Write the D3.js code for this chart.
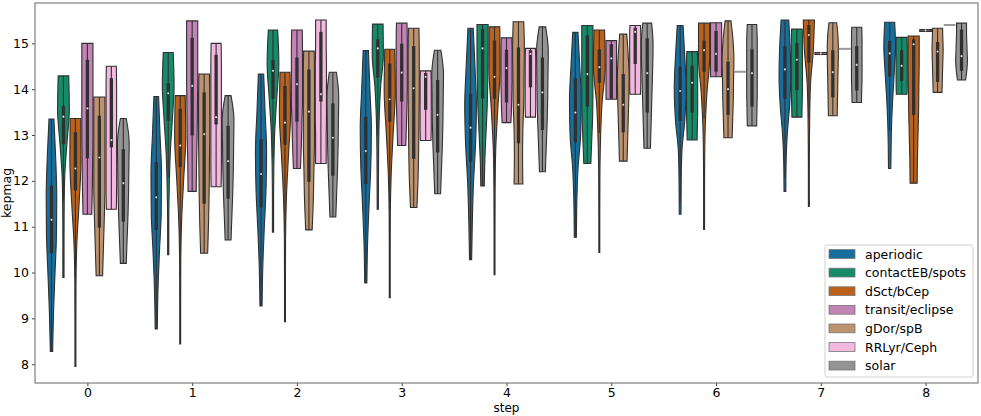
<!DOCTYPE html>
<html>
<head>
<meta charset="utf-8">
<script src="https://cdn.jsdelivr.net/npm/d3@7"></script>
<style>
  body { margin: 0; background: #fff; }
  text { font-family: "DejaVu Sans", sans-serif; }
</style>
</head>
<body>
<svg id="viz" width="981" height="416"></svg>
<script>
// Categories
const steps   = [0, 1, 2, 3, 4, 5, 6, 7, 8];
const classes = ['aperiodic', 'contactEB/spots', 'dSct/bCep', 'transit/eclipse',
                 'gDor/spB', 'RRLyr/Ceph', 'solar'];
const palette = ['#0173b2', '#029e73', '#d55e00', '#cc78bc', '#ca9161', '#fbafe4', '#949494'];
const yTicks  = [8, 9, 10, 11, 12, 13, 14, 15];

// Per class (rows) and step (columns)
const lowVals = [
  [8.28, 8.77, 9.27, 9.77, 10.28, 10.77, 11.27, 11.77, 12.27],
  [9.89, 10.39, 10.88, 11.38, 11.89, 12.38, 12.89, 13.39, 13.89],
  [7.95, 8.44, 8.93, 9.45, 9.95, 10.44, 10.94, 11.44, 11.95],
  [11.27, 11.77, 12.27, 12.77, 13.27, 13.78, 14.27, 14.76, 15.26],
  [9.93, 10.42, 10.93, 11.42, 11.93, 12.43, 12.94, 13.42, 13.93],
  [11.38, 11.87, 12.38, 12.88, 13.39, 13.89, 14.38, 14.88, 15.40],
  [10.20, 10.71, 11.21, 11.72, 12.20, 12.71, 13.20, 13.71, 14.20]
];
const highVals = [
  [13.35, 13.84, 14.33, 14.84, 15.33, 15.24, 15.39, 15.51, 15.46],
  [14.29, 14.80, 15.29, 15.42, 15.41, 15.39, 14.82, 15.31, 15.13],
  [13.36, 13.86, 14.37, 14.87, 15.36, 15.29, 15.44, 15.51, 15.16],
  [15.00, 15.49, 15.29, 15.44, 15.12, 15.06, 15.45, 14.80, 15.30],
  [13.83, 14.33, 14.83, 15.33, 15.47, 15.20, 15.49, 15.45, 15.33],
  [14.50, 15.00, 15.51, 14.40, 14.89, 15.39, 14.38, 14.88, 15.40],
  [13.36, 13.86, 14.37, 14.85, 15.36, 15.44, 15.41, 15.35, 15.44]
];
const q1Vals = [
  [10.42, 10.93, 11.42, 11.93, 12.42, 12.84, 13.31, 13.79, 14.27],
  [12.80, 13.31, 13.79, 14.25, 13.80, 13.62, 13.49, 13.98, 14.18],
  [11.79, 12.30, 12.79, 13.29, 13.79, 14.14, 14.38, 14.58, 13.44],
  [12.49, 12.99, 13.29, 13.73, 13.71, 13.79, 14.38, 14.77, 15.27],
  [10.98, 11.50, 11.98, 12.48, 12.82, 13.06, 13.44, 13.82, 14.16],
  [12.73, 13.23, 13.73, 13.55, 14.04, 14.55, 14.38, 14.88, 15.40],
  [11.11, 11.61, 12.11, 12.62, 13.11, 13.49, 13.62, 13.97, 14.40]
];
const medVals = [
  [11.15, 11.64, 12.15, 12.65, 13.16, 13.49, 13.96, 14.43, 14.78],
  [13.40, 13.91, 14.40, 14.89, 14.89, 14.33, 14.14, 14.64, 14.51],
  [12.27, 12.77, 13.27, 13.78, 14.27, 14.48, 14.85, 15.18, 14.98],
  [13.58, 14.07, 14.11, 14.36, 14.46, 14.67, 14.77, 14.78, 15.28],
  [12.51, 13.02, 13.51, 14.02, 13.66, 13.66, 14.00, 14.37, 14.82],
  [12.89, 13.39, 13.89, 14.27, 14.77, 15.25, 14.38, 14.88, 15.40],
  [11.95, 12.43, 12.94, 13.44, 13.93, 14.35, 14.35, 14.53, 14.72]
];
const q3Vals = [
  [11.90, 12.41, 12.91, 13.40, 13.90, 14.24, 14.49, 14.94, 15.05],
  [13.63, 14.13, 14.64, 15.09, 15.31, 15.17, 14.51, 15.01, 14.85],
  [13.06, 13.57, 14.07, 14.56, 15.06, 14.87, 15.06, 15.40, 15.09],
  [14.64, 15.12, 14.69, 14.99, 14.86, 14.98, 15.27, 14.79, 15.29],
  [13.42, 13.93, 14.43, 14.94, 14.91, 14.33, 14.60, 14.85, 15.03],
  [14.24, 14.75, 15.25, 14.35, 14.85, 15.34, 14.38, 14.88, 15.40],
  [12.69, 13.20, 13.69, 14.20, 14.69, 15.11, 14.87, 14.94, 15.30]
];
// Relative density at 7 even levels from low to high (null = single observation)
const densities = [
  [[0.20, 0.35, 0.60, 0.85, 0.90, 0.72, 0.42],
   [0.18, 0.30, 0.55, 0.85, 0.90, 0.65, 0.40],
   [0.18, 0.30, 0.55, 0.85, 0.95, 0.70, 0.45],
   [0.18, 0.30, 0.55, 0.85, 0.95, 0.70, 0.45],
   [0.18, 0.30, 0.50, 0.85, 1.00, 0.75, 0.45],
   [0.18, 0.25, 0.45, 0.90, 1.00, 0.75, 0.45],
   [0.15, 0.18, 0.30, 0.80, 1.00, 0.80, 0.50],
   [0.15, 0.20, 0.40, 0.80, 1.00, 0.90, 0.65],
   [0.20, 0.25, 0.35, 0.55, 0.80, 1.00, 0.85]],
  [[0.10, 0.10, 0.12, 0.22, 0.60, 1.00, 0.90],
   [0.10, 0.10, 0.18, 0.35, 0.70, 1.00, 0.85],
   [0.10, 0.10, 0.15, 0.30, 0.65, 1.00, 0.80],
   [0.10, 0.12, 0.15, 0.25, 0.50, 0.95, 0.90],
   [0.30, 0.40, 0.60, 0.80, 0.90, 0.95, 0.95],
   [0.60, 0.75, 0.90, 0.95, 0.95, 0.95, 0.95],
   [0.85, 0.90, 0.95, 0.95, 0.95, 0.95, 0.90],
   [0.85, 0.90, 0.95, 0.95, 0.95, 0.95, 0.90],
   [0.90, 0.95, 0.95, 0.95, 0.95, 0.95, 0.90]],
  [[0.08, 0.08, 0.10, 0.25, 0.65, 0.95, 0.90],
   [0.08, 0.08, 0.10, 0.25, 0.60, 0.95, 0.85],
   [0.08, 0.08, 0.10, 0.25, 0.60, 0.95, 0.85],
   [0.08, 0.08, 0.10, 0.25, 0.60, 0.95, 0.85],
   [0.08, 0.08, 0.10, 0.20, 0.55, 0.95, 0.90],
   [0.08, 0.08, 0.10, 0.20, 0.45, 1.00, 0.90],
   [0.08, 0.08, 0.10, 0.20, 0.50, 0.95, 0.95],
   [0.08, 0.08, 0.10, 0.15, 0.30, 0.75, 0.95],
   [0.60, 0.65, 0.75, 0.85, 0.90, 0.95, 0.95]],
  [[0.75, 0.85, 0.90, 0.95, 0.95, 0.95, 0.95],
   [0.70, 0.75, 0.85, 0.90, 0.95, 0.95, 0.95],
   [0.60, 0.75, 0.85, 0.95, 0.95, 0.95, 0.90],
   [0.70, 0.80, 0.90, 0.95, 0.95, 0.95, 0.90],
   [0.75, 0.85, 0.90, 0.95, 0.95, 0.95, 0.90],
   [0.90, 0.90, 0.90, 0.90, 0.90, 0.90, 0.90],
   [0.95, 0.95, 0.95, 0.95, 0.95, 0.95, 0.95],
   [1.00, 1.00, 1.00, 1.00, 1.00, 1.00, 1.00],
   [1.00, 1.00, 1.00, 1.00, 1.00, 1.00, 1.00]],
  [[0.55, 0.70, 0.85, 0.95, 0.95, 0.95, 0.95],
   [0.60, 0.75, 0.85, 0.90, 0.95, 0.95, 0.90],
   [0.55, 0.75, 0.85, 0.95, 0.95, 0.95, 0.90],
   [0.55, 0.75, 0.85, 0.90, 0.95, 0.95, 0.90],
   [0.75, 0.70, 0.75, 0.90, 0.95, 1.00, 0.90],
   [0.65, 0.75, 0.85, 0.95, 1.00, 0.85, 0.60],
   [0.70, 0.80, 0.90, 0.95, 1.00, 0.85, 0.50],
   [0.75, 0.80, 0.85, 0.90, 0.95, 0.90, 0.65],
   [0.75, 0.80, 0.85, 0.90, 0.95, 0.90, 0.85]],
  [[0.85, 0.90, 0.90, 0.90, 0.90, 0.90, 0.85],
   [0.85, 0.90, 0.90, 0.90, 0.90, 0.90, 0.85],
   [0.90, 0.90, 0.95, 0.95, 0.95, 0.90, 0.90],
   [0.90, 0.95, 0.95, 0.95, 0.95, 0.95, 0.90],
   [0.85, 0.90, 0.90, 0.90, 0.90, 0.90, 0.85],
   [0.90, 0.95, 0.95, 0.95, 0.95, 0.95, 0.90],
   null, null, null],
  [[0.50, 0.65, 0.80, 0.90, 0.95, 1.00, 0.50],
   [0.50, 0.65, 0.80, 0.90, 0.95, 1.00, 0.50],
   [0.50, 0.65, 0.80, 0.90, 0.95, 1.00, 0.60],
   [0.50, 0.65, 0.80, 0.90, 0.95, 1.00, 0.55],
   [0.50, 0.65, 0.80, 0.90, 0.95, 1.00, 0.55],
   [0.55, 0.65, 0.75, 0.85, 0.95, 1.00, 0.75],
   [0.80, 0.85, 0.90, 0.90, 0.90, 0.90, 0.80],
   [0.80, 0.85, 0.90, 0.90, 0.90, 0.90, 0.85],
   [0.70, 0.90, 1.00, 0.95, 0.90, 0.85, 0.85]]
];

// Canvas
const svg = d3.select('#viz');
const margin = { top: 3, right: 3, bottom: 33, left: 35 };
const width  = +svg.attr('width')  - margin.left - margin.right;
const height = +svg.attr('height') - margin.top  - margin.bottom;
const g = svg.append('g').attr('transform', `translate(${margin.left},${margin.top})`);

const gray = '#303030';
const fills = palette.map(c => { const h = d3.hsl(c); h.s *= 0.75; return h.formatHex(); });

const xScale = d3.scalePoint().domain(steps).range([0, width]).padding(0.5);
const hueScale = d3.scaleBand().domain(classes)
                   .range([-0.4 * xScale.step(), 0.4 * xScale.step()]);
const yScale = d3.scaleLinear().domain([7.59, 15.88]).range([height, 0]);
const wScale = d3.scaleLinear().domain([0, 1]).range([0, hueScale.bandwidth() / 2 * 0.98]);

// Axes
const xAxis = g.append('g')
  .attr('transform', `translate(0,${height})`)
  .call(d3.axisBottom(xScale).tickSize(3).tickPadding(2.5));
const yAxis = g.append('g')
  .call(d3.axisLeft(yScale).tickValues(yTicks).tickSize(3).tickPadding(3));
[xAxis, yAxis].forEach(a => {
  a.select('.domain').remove();
  a.selectAll('text').attr('font-size', '12.5px').attr('fill', '#000')
   .attr('font-family', '"DejaVu Sans", sans-serif');
  a.selectAll('line').attr('stroke', '#444');
});

g.append('rect')
 .attr('width', width).attr('height', height)
 .attr('fill', 'none').attr('stroke', '#666').attr('stroke-width', 1);

svg.append('text')
   .attr('x', margin.left + width / 2).attr('y', 412)
   .attr('text-anchor', 'middle').attr('font-size', '12px')
   .text('step');
svg.append('text')
   .attr('transform', `translate(10.5,${margin.top + height / 2}) rotate(-90)`)
   .attr('text-anchor', 'middle').attr('font-size', '12.5px')
   .text('kepmag');

// Violins
const area = d3.area()
  .y(p => yScale(p.v))
  .x0(p => p.cx - wScale(p.w))
  .x1(p => p.cx + wScale(p.w))
  .curve(d3.curveMonotoneY);

classes.forEach((cls, ci) => {
  steps.forEach((step, si) => {
    const cx = xScale(step) + hueScale(cls) + hueScale.bandwidth() / 2;
    const lo = lowVals[ci][si], hi = highVals[ci][si];
    const dens = densities[ci][si];

    if (dens == null) {
      // single observation: a flat line across the slot
      g.append('line')
       .attr('x1', cx - wScale(1)).attr('x2', cx + wScale(1))
       .attr('y1', yScale(lo)).attr('y2', yScale(lo))
       .attr('stroke', '#999').attr('stroke-width', 2);
      return;
    }

    const pts = dens.map((w, k) => ({ v: lo + (hi - lo) * k / (dens.length - 1), w, cx }))
                    .reverse();
    g.append('path')
     .attr('d', area(pts))
     .attr('fill', fills[ci])
     .attr('stroke', gray).attr('stroke-width', 1.1);

    // inner box
    const q1 = q1Vals[ci][si], q3 = q3Vals[ci][si], iqr = q3 - q1;
    const wLo = Math.max(lo, q1 - 1.5 * iqr);
    const wHi = Math.min(hi, q3 + 1.5 * iqr);
    g.append('line')
     .attr('x1', cx).attr('x2', cx)
     .attr('y1', yScale(wLo)).attr('y2', yScale(wHi))
     .attr('stroke', gray).attr('stroke-width', 1.1);
    g.append('line')
     .attr('x1', cx).attr('x2', cx)
     .attr('y1', yScale(q1)).attr('y2', yScale(q3))
     .attr('stroke', gray).attr('stroke-width', 3.3);
    g.append('circle')
     .attr('cx', cx).attr('cy', yScale(medVals[ci][si]))
     .attr('r', 1.1).attr('fill', '#fff').attr('stroke', gray).attr('stroke-width', 0.3);
  });
});

// Legend
const legend = svg.append('g').attr('transform', 'translate(825,245)');
legend.append('rect')
  .attr('width', 148).attr('height', 132).attr('rx', 2.5)
  .attr('fill', '#fff').attr('fill-opacity', 0.8)
  .attr('stroke', '#d0d0d0').attr('stroke-width', 1);
const rows = legend.selectAll('g.row').data(classes).join('g')
  .attr('class', 'row')
  .attr('transform', (d, i) => `translate(0,${9 + i * 18.6})`);
rows.append('rect')
  .attr('x', 4).attr('y', -4.4).attr('width', 26).attr('height', 8.8)
  .attr('fill', (d, i) => fills[i]).attr('stroke', '#777').attr('stroke-width', 0.8);
rows.append('text')
  .attr('x', 40).attr('dy', '0.36em').attr('font-size', '12.5px')
  .text(d => d);
</script>
</body>
</html>
